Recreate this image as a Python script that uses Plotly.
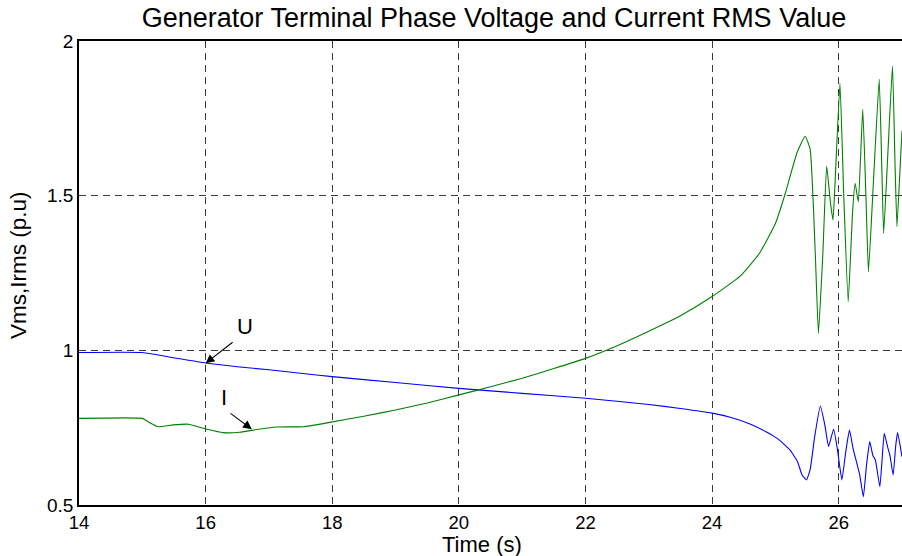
import plotly.graph_objects as go

# Voltage (U) RMS, p.u.
u_time = [14, 15, 15.5, 16, 16.5, 17, 17.5, 18, 19, 20, 21, 22, 23, 23.5, 24, 24.3, 24.6,
          24.86, 25.05, 25.23, 25.35, 25.42, 25.49, 25.55, 25.62, 25.71, 25.78, 25.84, 25.92,
          25.98, 26.05, 26.11, 26.17, 26.23, 26.28, 26.33, 26.39, 26.44, 26.49, 26.54, 26.58,
          26.65, 26.69, 26.72, 26.77, 26.81, 26.86, 26.9, 26.93, 27.0]
u_vals = [0.993, 0.993, 0.976, 0.959, 0.947, 0.937, 0.926, 0.915, 0.896, 0.877, 0.861, 0.845,
          0.825, 0.812, 0.797, 0.783, 0.762, 0.736, 0.712, 0.678, 0.64, 0.598, 0.581, 0.615,
          0.72, 0.82, 0.76, 0.689, 0.745, 0.68, 0.581, 0.67, 0.742, 0.68, 0.64, 0.6, 0.527,
          0.63, 0.705, 0.66, 0.645, 0.559, 0.66, 0.732, 0.69, 0.66, 0.597, 0.69, 0.734, 0.656]

# Current (I) RMS, p.u.
i_time = [14, 15, 15.1, 15.25, 15.49, 15.73, 16.02, 16.28, 16.54, 16.75, 17.12, 17.54, 17.96,
          18.5, 19, 19.5, 20, 20.5, 21, 21.5, 22, 22.5, 23, 23.5, 24, 24.44, 24.75, 25.0,
          25.15, 25.34, 25.47, 25.55, 25.63, 25.68, 25.75, 25.81, 25.87, 25.91, 25.94, 26.02,
          26.08, 26.15, 26.22, 26.26, 26.31, 26.38, 26.43, 26.47, 26.55, 26.64, 26.68, 26.71,
          26.78, 26.85, 26.89, 26.92, 26.96, 27.0]
i_vals = [0.78, 0.78, 0.768, 0.753, 0.759, 0.761, 0.745, 0.734, 0.735, 0.742, 0.752, 0.753,
          0.767, 0.787, 0.807, 0.83, 0.856, 0.882, 0.91, 0.941, 0.974, 1.015, 1.062, 1.112,
          1.174, 1.239, 1.314, 1.41, 1.503, 1.638, 1.692, 1.649, 1.314, 1.055, 1.314, 1.596,
          1.477, 1.421, 1.53, 1.863, 1.5, 1.157, 1.45, 1.54, 1.48, 1.779, 1.5, 1.254, 1.55,
          1.876, 1.6, 1.378, 1.65, 1.919, 1.6, 1.40, 1.55, 1.71]

x_ticks = [14, 16, 18, 20, 22, 24, 26]
x_ticktext = ["14", "16", "18", "20", "22", "24", "26"]
y_ticks = [0.5, 1, 1.5, 2]
y_ticktext = ["0.5", "1", "1.5", "2"]

FONT = "Liberation Sans, Arial, sans-serif"
W, H = 902, 556
ML, MR, MT, MB = 79, 0, 41, 51
PW, PH = W - ML - MR, H - MT - MB

fig = go.Figure()
fig.add_trace(go.Scatter(x=u_time, y=u_vals, mode="lines", name="U",
                         line=dict(color="#0000FF", width=1.1, shape="spline", smoothing=0.4)))
fig.add_trace(go.Scatter(x=i_time, y=i_vals, mode="lines", name="I",
                         line=dict(color="#008000", width=1.1, shape="spline", smoothing=0.4)))

# labels and arrows
fig.add_annotation(x=16.62, y=1.076, text="U", showarrow=False,
                   font=dict(family=FONT, size=22, color="black"))
fig.add_annotation(x=16.0, y=0.958, ax=16.45, ay=1.03, axref="x", ayref="y", text="",
                   showarrow=True, arrowhead=2, arrowsize=1.6, arrowwidth=1.1, arrowcolor="black")
fig.add_annotation(x=16.29, y=0.848, text="I", showarrow=False,
                   font=dict(family=FONT, size=22, color="black"))
fig.add_annotation(x=16.73, y=0.745, ax=16.37, ay=0.80, axref="x", ayref="y", text="",
                   showarrow=True, arrowhead=2, arrowsize=1.6, arrowwidth=1.1, arrowcolor="black")

# axis titles placed as paper annotations
fig.add_annotation(xref="paper", yref="paper", x=(482 - ML) / PW, y=(H - MB - 544) / PH,
                   text="Time (s)", showarrow=False, xanchor="center", yanchor="middle",
                   font=dict(family=FONT, size=22, color="black"))
fig.add_annotation(xref="paper", yref="paper", x=(18 - ML) / PW, y=(H - MB - 265) / PH,
                   text="Vms,Irms (p.u)", showarrow=False, xanchor="center", yanchor="middle",
                   textangle=-90, font=dict(family=FONT, size=22.5, color="black"))

fig.update_layout(
    width=W, height=H,
    margin=dict(l=ML, r=MR, t=MT, b=MB),
    paper_bgcolor="white", plot_bgcolor="white",
    showlegend=False,
    font=dict(family=FONT, color="black"),
    title=dict(text="Generator Terminal Phase Voltage and Current RMS Value",
               x=(494 - ML) / PW, xref="paper", xanchor="center", y=1 - 18 / H, yanchor="middle",
               font=dict(family=FONT, size=27, color="black")),
)
fig.update_xaxes(range=[14, 27], tickvals=x_ticks, ticktext=x_ticktext,
                 showline=True, linecolor="black", linewidth=1.5, mirror=True,
                 showgrid=True, gridcolor="#3a3a3a", gridwidth=1, griddash="7px,5px",
                 zeroline=False, ticks="", ticklen=0,
                 tickfont=dict(family=FONT, size=18.5, color="black"))
fig.update_yaxes(range=[0.5, 2], tickvals=y_ticks, ticktext=y_ticktext,
                 showline=True, linecolor="black", linewidth=1.5, mirror=False,
                 showgrid=True, gridcolor="#3a3a3a", gridwidth=1, griddash="7px,5px",
                 zeroline=False, ticks="", ticklen=0,
                 tickfont=dict(family=FONT, size=19, color="black"))

fig.write_html("out.html")
